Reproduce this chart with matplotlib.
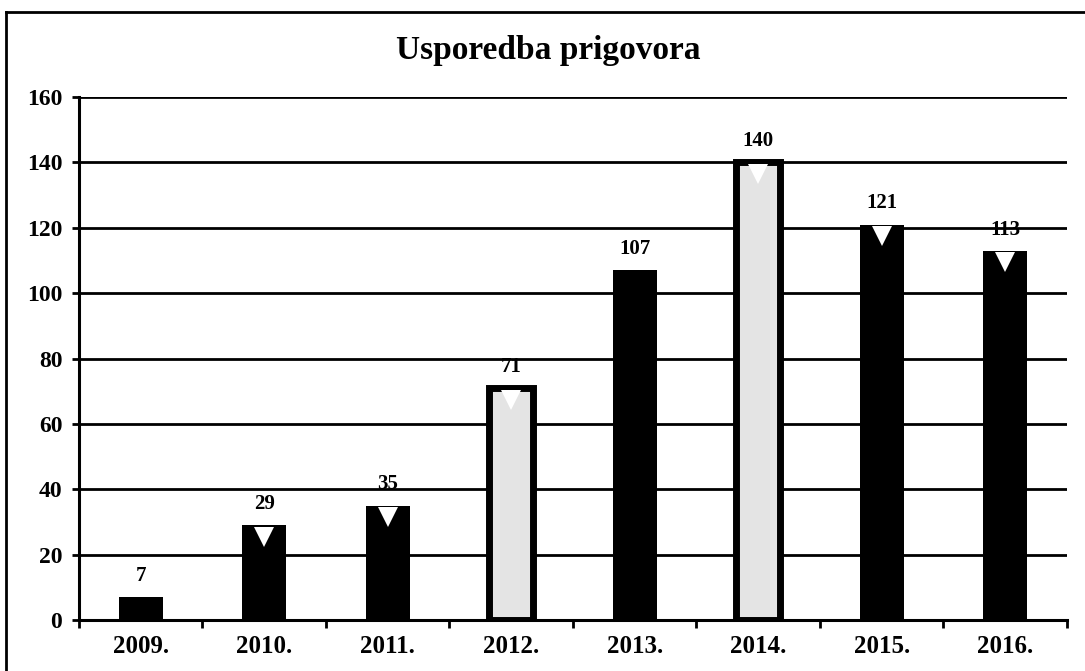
import matplotlib
matplotlib.use("Agg")
import matplotlib.pyplot as plt
import numpy as np
from matplotlib.lines import Line2D

years = ["2009.", "2010.", "2011.", "2012.", "2013.", "2014.", "2015.", "2016."]
prigovori = [7, 29, 35, 71, 107, 140, 121, 113]
light_bars = [False, False, False, True, False, True, False, False]
has_notch = [False, True, True, True, False, True, True, True]
yticks = [0, 20, 40, 60, 80, 100, 120, 140, 160]

plt.rcParams['font.family'] = ['Liberation Serif', 'DejaVu Serif']
plt.rcParams['font.weight'] = 'bold'

fig = plt.figure(figsize=(10.85, 6.71), dpi=100)
ax = fig.add_axes([0.0728, 0.076, 0.9106, 0.7794])

x = np.arange(len(years))
face = ['#e4e4e4' if l else 'black' for l in light_bars]
lw = [5 if l else 0 for l in light_bars]
ax.bar(x, prigovori, width=0.36, color=face, edgecolor='black', linewidth=lw, zorder=3)

# white notch near the top of most bars (scan look)
for xi, v, n in zip(x, prigovori, has_notch):
    if n:
        ax.plot(xi, v - 3.6, marker='v', color='white', markersize=14,
                markeredgewidth=0, zorder=4)

for xi, v in zip(x, prigovori):
    ax.annotate(str(v), (xi, v), xytext=(0, 8), textcoords='offset points',
                ha='center', va='bottom', fontsize=15, fontweight='bold', zorder=5)

ax.set_xlim(-0.5, len(years) - 0.5)
ax.set_ylim(0, 160)
ax.set_yticks(yticks)
ax.set_yticklabels([str(t) for t in yticks], fontsize=17, fontweight='bold')
ax.yaxis.grid(True, color='black', linewidth=2, zorder=1)
ax.tick_params(axis='y', length=5, width=2, pad=7)

# category labels in the middle, tick marks on the boundaries
ax.set_xticks(x)
ax.set_xticklabels(years, fontsize=18, fontweight='bold')
ax.tick_params(axis='x', length=0, pad=11)
ax.set_xticks(np.arange(len(years) + 1) - 0.5, minor=True)
ax.tick_params(axis='x', which='minor', length=6, width=2, direction='out')

for s in ['top', 'right']:
    ax.spines[s].set_visible(False)
for s in ['left', 'bottom']:
    ax.spines[s].set_linewidth(2.2)
ax.set_axisbelow(True)

fig.text(0.505, 0.925, "Usporedba prigovora", ha='center', va='center',
         fontsize=24, fontweight='bold')

# outer chart frame (only left and top edges visible in the scan)
fig.add_artist(Line2D([0.0055, 0.0055], [0, 0.982], color='black', linewidth=2,
                      transform=fig.transFigure))
fig.add_artist(Line2D([0.0055, 1.0], [0.982, 0.982], color='black', linewidth=2,
                      transform=fig.transFigure))

fig.savefig("out.png", dpi=100, facecolor='white')
